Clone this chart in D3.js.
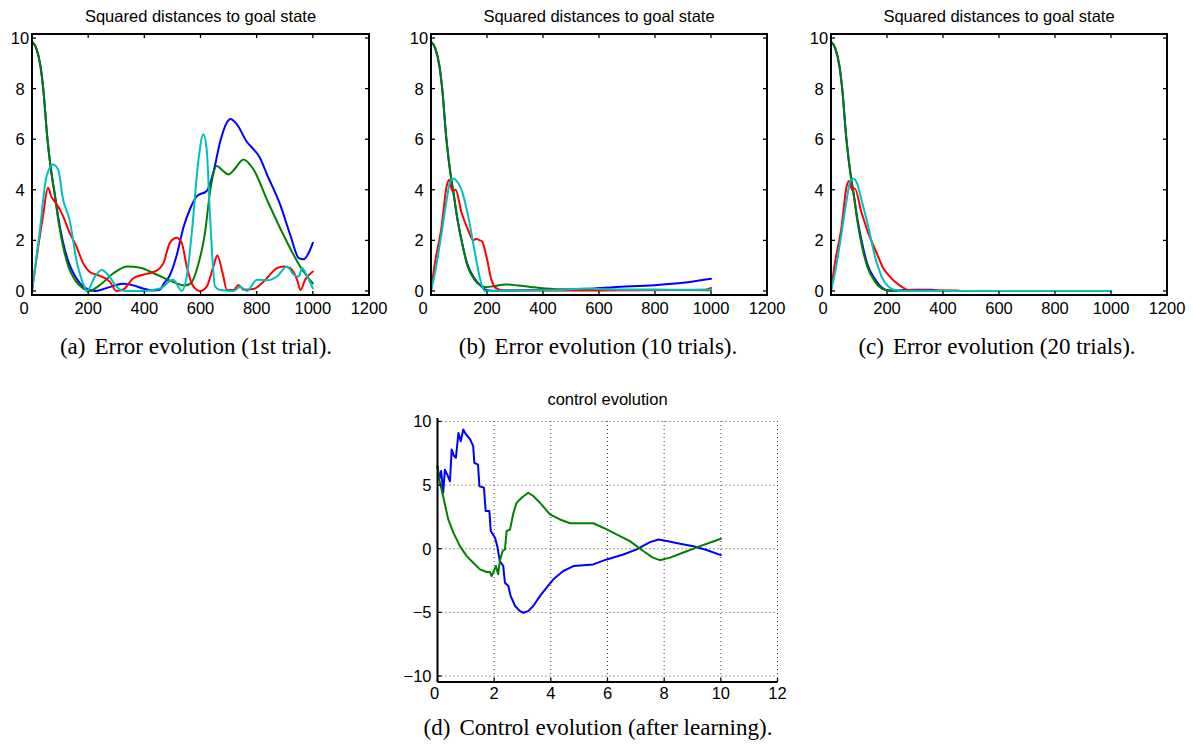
<!DOCTYPE html>
<html>
<head>
<meta charset="utf-8">
<script src="https://cdn.jsdelivr.net/npm/d3@7"></script>
<style>
  body { margin: 0; background: #fff; }
  svg { display: block; }
  .tick-label { font-family: "Liberation Sans", Arial, sans-serif; font-size: 16.5px; fill: #000; }
  .panel-title { font-family: "Liberation Sans", Arial, sans-serif; font-size: 16.5px; fill: #000; }
  .caption { font-family: "Liberation Serif", "Times New Roman", serif; font-size: 23px; fill: #000; }
  .series { fill: none; stroke-width: 2; stroke-linejoin: round; stroke-linecap: round; }
</style>
</head>
<body>
<svg id="fig" width="1193" height="746"></svg>
<script>
// ---- tick values ----
const ERR_X_TICKS = [0, 200, 400, 600, 800, 1000, 1200];
const ERR_Y_TICKS = [0, 2, 4, 6, 8, 10];
const CTRL_X_TICKS = [0, 2, 4, 6, 8, 10, 12];
const CTRL_Y_TICKS = [-10, -5, 0, 5, 10];

const ERR_TITLE = "Squared distances to goal state";
const CTRL_TITLE = "control evolution";
const CAPTIONS = [
  ["(a)", "Error evolution (1st trial)."],
  ["(b)", "Error evolution (10 trials)."],
  ["(c)", "Error evolution (20 trials)."],
  ["(d)", "Control evolution (after learning)."]
];

const COLORS = { blue: "#0000ff", green: "#008000", red: "#ff0000", cyan: "#00bfbf" };

// ---- (a) 1st trial: [step, squared distance] ----
const A_BLUE = [[0,9.85],[15,9.6],[30,8.9],[40,8.0],[55,6.0],[70,4.6],[80,3.9],[95,2.8],[110,1.95],[130,1.15],[155,0.55],[180,0.2],[205,0.04],[225,0],[250,0.06],[290,0.2],[325,0.28],[360,0.22],[395,0.1],[430,0.02],[455,0.05],[470,0.3],[490,0.6],[515,1.4],[539,2.5],[565,3.3],[587,3.75],[622,3.95],[646,4.7],[670,5.9],[694,6.66],[706,6.8],[729,6.6],[765,5.9],[789,5.6],[810,5.3],[837,4.6],[884,3.4],[920,2.2],[950,1.3],[967,1.25],[985,1.5],[1000,1.9]];
const A_GREEN = [[0,9.85],[15,9.6],[30,8.9],[40,8.0],[55,6.0],[70,4.6],[80,3.9],[95,2.7],[110,1.8],[130,0.95],[155,0.4],[180,0.12],[205,0],[240,0.22],[290,0.7],[340,0.97],[385,0.92],[445,0.64],[500,0.37],[545,0.22],[565,0.3],[590,0.97],[616,2.3],[635,4.0],[658,4.94],[680,4.75],[700,4.6],[720,4.8],[753,5.2],[789,4.8],[837,3.6],[896,2.2],[956,0.95],[1000,0.3]];
const A_RED = [[0,0],[15,1.2],[39,2.95],[57,4.08],[70,3.7],[80,3.55],[95,3.3],[111,2.95],[134,2.3],[158,1.76],[182,1.1],[206,0.75],[242,0.6],[277,0.37],[301,0],[325,0.06],[361,0.5],[396,0.64],[444,0.8],[468,1.1],[491,1.9],[515,2.1],[533,1.9],[551,0.97],[575,0.17],[599,0],[622,0.17],[646,0.97],[660,1.4],[679,0.7],[694,0.04],[718,0.04],[735,0.24],[753,0.05],[789,0.08],[825,0.37],[872,0.9],[896,0.97],[920,0.9],[944,0.44],[956,0.04],[973,0.45],[1000,0.77]];
const A_CYAN = [[0,0],[27,2.3],[51,4.5],[75,5.0],[93,4.8],[111,3.6],[134,2.8],[158,1.23],[182,0.3],[196,0],[224,0.57],[248,0.83],[271,0.64],[301,0.17],[325,0.01],[396,0],[456,0.1],[503,0.44],[533,0],[551,0.57],[569,2.3],[593,5.2],[610,6.2],[622,5.6],[634,2.95],[652,0.17],[670,0.04],[718,0],[741,0.17],[765,0],[801,0.44],[837,0.42],[872,0.57],[908,0.97],[932,0.64],[950,0.57],[962,0.9],[979,0.6],[1000,0.1]];

// ---- (b) 10 trials ----
const B_BLUE = [[0,9.85],[15,9.6],[30,8.9],[40,8.0],[55,6.0],[70,4.6],[80,3.9],[95,2.8],[110,1.95],[130,1.05],[155,0.5],[180,0.18],[200,0.03],[240,0.01],[300,0.02],[450,0.05],[550,0.08],[650,0.15],[800,0.23],[900,0.32],[1000,0.48]];
const B_GREEN = [[0,9.85],[15,9.6],[30,8.9],[40,8.0],[55,6.0],[70,4.6],[80,3.9],[95,2.8],[110,1.95],[130,1.0],[155,0.45],[180,0.2],[198,0.15],[230,0.2],[264,0.26],[310,0.22],[360,0.15],[442,0.07],[550,0.05],[700,0.05],[850,0.04],[1000,0.03]];
const B_RED = [[0,0],[14,1.1],[38,2.55],[56,4.15],[65,4.4],[76,3.95],[88,4.0],[109,3.1],[133,2.4],[151,2.0],[160,2.05],[175,2.0],[183,1.95],[198,1.36],[216,0.44],[234,0.1],[260,0.02],[400,0.02],[600,0.02],[900,0.04],[980,0.05],[1000,0.12]];
const B_CYAN = [[0,0],[14,0.7],[38,2.3],[56,3.6],[68,4.3],[80,4.45],[95,4.3],[109,4.0],[133,2.95],[157,1.5],[181,0.24],[193,0],[300,0.02],[450,0.03],[550,0.1],[600,0.08],[700,0.05],[1000,0.05]];

// ---- (c) 20 trials ----
const C_BLUE = [[0,9.85],[15,9.6],[30,8.9],[40,8.0],[55,6.0],[70,4.6],[80,3.9],[95,2.8],[110,1.95],[130,1.05],[155,0.5],[180,0.15],[205,0.03],[240,0.02],[300,0.05],[360,0.05],[380,0],[1000,0]];
const C_GREEN = [[0,9.85],[15,9.6],[30,8.9],[40,8.0],[55,6.0],[70,4.6],[80,3.9],[95,2.7],[110,1.8],[130,0.95],[155,0.4],[180,0.1],[210,0],[1000,0]];
const C_RED = [[0,0],[14,1.1],[38,2.55],[56,4.15],[65,4.35],[75,4.0],[85,4.05],[109,3.1],[133,2.3],[163,1.5],[187,0.9],[210,0.57],[228,0.37],[252,0.17],[276,0.04],[350,0.03],[450,0.02],[470,0],[1000,0]];
const C_CYAN = [[0,0],[14,0.7],[38,2.3],[56,3.6],[68,4.3],[80,4.45],[95,4.2],[109,3.6],[133,2.55],[157,1.36],[181,0.57],[205,0.17],[228,0.04],[260,0],[1000,0]];

// ---- (d) control after learning: [time, control] ----
const D_BLUE = [[0,6.5],[0.06,5.45],[0.13,6.1],[0.2,4.4],[0.26,6.2],[0.35,5.8],[0.44,5.3],[0.5,7.8],[0.58,7.3],[0.65,7.15],[0.74,9.1],[0.82,8.45],[0.91,9.37],[1.0,9.0],[1.15,8.6],[1.26,8.06],[1.3,6.75],[1.43,6.6],[1.48,4.9],[1.64,4.8],[1.7,2.96],[1.83,2.96],[1.88,1.4],[2.03,0.86],[2.11,0.2],[2.2,-0.97],[2.32,-1.36],[2.38,-2.67],[2.5,-2.93],[2.58,-3.7],[2.74,-4.5],[2.91,-4.9],[3.03,-5.03],[3.2,-4.9],[3.38,-4.5],[3.62,-3.7],[3.85,-3.06],[4.09,-2.4],[4.44,-1.75],[4.8,-1.36],[5.15,-1.3],[5.5,-1.23],[5.97,-0.84],[6.56,-0.45],[7.03,-0.05],[7.5,0.52],[7.8,0.73],[8.09,0.6],[8.56,0.39],[9.03,0.2],[9.5,-0.1],[10,-0.5]];
const D_GREEN = [[0,6.5],[0.06,5.45],[0.2,4.1],[0.26,3.5],[0.38,2.3],[0.56,1.26],[0.79,0.2],[1.03,-0.58],[1.26,-1.1],[1.5,-1.62],[1.74,-1.83],[1.85,-1.83],[1.91,-2.15],[1.99,-1.75],[2.06,-1.36],[2.14,-2.0],[2.2,-0.97],[2.3,-0.18],[2.38,-0.05],[2.44,1.39],[2.56,1.5],[2.68,2.83],[2.79,3.6],[2.97,4.0],[3.2,4.4],[3.38,4.14],[3.62,3.6],[3.97,2.7],[4.32,2.3],[4.68,2.0],[5.15,2.0],[5.5,2.0],[5.85,1.65],[6.32,1.13],[6.79,0.6],[7.26,-0.18],[7.6,-0.7],[7.85,-0.9],[8.21,-0.7],[8.68,-0.3],[9.27,0.2],[10,0.78]];

const svg = d3.select("#fig");

// error panels: full box, inward ticks on all four sides
function drawErrorPanel(left, right, series, caption, capX) {
  const top = 34, bottom = 295;
  const x = d3.scaleLinear().domain([0, 1200]).range([left, right]);
  const y = d3.scaleLinear().domain([-0.16, 10.16]).range([bottom, top]);
  const g = svg.append("g");

  const line = d3.line().x(d => x(d[0])).y(d => y(d[1])).curve(d3.curveMonotoneX);
  series.forEach(([data, col]) => {
    g.append("path").attr("class", "series").attr("stroke", COLORS[col]).attr("d", line(data));
  });

  const ax = g.append("g").attr("stroke", "#000").attr("stroke-width", 1.3);
  ERR_Y_TICKS.forEach(v => {
    ax.append("line").attr("x1", left).attr("x2", left + 4).attr("y1", y(v)).attr("y2", y(v));
    ax.append("line").attr("x1", right).attr("x2", right - 4).attr("y1", y(v)).attr("y2", y(v));
  });
  ERR_X_TICKS.forEach(v => {
    ax.append("line").attr("x1", x(v)).attr("x2", x(v)).attr("y1", bottom).attr("y2", bottom - 4);
    ax.append("line").attr("x1", x(v)).attr("x2", x(v)).attr("y1", top).attr("y2", top + 4);
  });
  g.append("rect").attr("x", left).attr("y", top).attr("width", right - left).attr("height", bottom - top)
    .attr("fill", "none").attr("stroke", "#000").attr("stroke-width", 2);

  g.selectAll(".ylab").data(ERR_Y_TICKS).join("text")
    .attr("class", "tick-label").attr("text-anchor", "middle")
    .attr("x", left - 12).attr("y", d => y(d)).attr("dy", "0.36em").text(d => d);
  g.selectAll(".xlab").data(ERR_X_TICKS).join("text")
    .attr("class", "tick-label").attr("text-anchor", "middle")
    .attr("x", d => x(d) + (d === 0 ? -8 : 0)).attr("y", 314).text(d => d);

  g.append("text").attr("class", "panel-title").attr("text-anchor", "middle")
    .attr("x", (left + right) / 2).attr("y", 22).text(ERR_TITLE);

  drawCaption(caption, capX, 354);
}

function drawCaption([tag, rest], cx, yb) {
  const t = svg.append("text").attr("class", "caption").attr("text-anchor", "middle").attr("x", cx).attr("y", yb);
  t.append("tspan").text(tag);
  t.append("tspan").attr("dx", 9).text(rest);
}

drawErrorPanel(32, 369, [[A_BLUE, "blue"], [A_GREEN, "green"], [A_RED, "red"], [A_CYAN, "cyan"]], CAPTIONS[0], 196);
drawErrorPanel(431, 767, [[B_BLUE, "blue"], [B_GREEN, "green"], [B_RED, "red"], [B_CYAN, "cyan"]], CAPTIONS[1], 598);
drawErrorPanel(831, 1167, [[C_BLUE, "blue"], [C_GREEN, "green"], [C_RED, "red"], [C_CYAN, "cyan"]], CAPTIONS[2], 997);

// control panel: dotted grid, left and bottom axes only
(function drawControl() {
  const left = 437.5, right = 777.5, top = 418, bottom = 682;
  const x = d3.scaleLinear().domain([0, 12]).range([left, right]);
  const y = d3.scaleLinear().domain([-10.47, 10.27]).range([bottom, top]);
  const g = svg.append("g");

  const grid = g.append("g").attr("stroke", "#444").attr("stroke-width", 1).attr("stroke-dasharray", "1 3");
  CTRL_X_TICKS.filter(v => v > 0).forEach(v =>
    grid.append("line").attr("x1", x(v)).attr("x2", x(v)).attr("y1", bottom).attr("y2", top + 3));
  CTRL_Y_TICKS.forEach(v =>
    grid.append("line").attr("x1", left).attr("x2", right).attr("y1", y(v)).attr("y2", y(v)));

  const line = d3.line().x(d => x(d[0])).y(d => y(d[1]));
  [[D_BLUE, "blue"], [D_GREEN, "green"]].forEach(([data, col]) => {
    g.append("path").attr("class", "series").attr("stroke", COLORS[col]).attr("d", line(data));
  });

  const ax = g.append("g").attr("stroke", "#000");
  ax.append("line").attr("x1", left).attr("x2", left).attr("y1", top).attr("y2", bottom).attr("stroke-width", 2);
  ax.append("line").attr("x1", left).attr("x2", right).attr("y1", bottom).attr("y2", bottom).attr("stroke-width", 2);
  CTRL_Y_TICKS.forEach(v => ax.append("line").attr("x1", left).attr("x2", left + 4).attr("y1", y(v)).attr("y2", y(v)).attr("stroke-width", 1.3));
  CTRL_X_TICKS.forEach(v => ax.append("line").attr("x1", x(v)).attr("x2", x(v)).attr("y1", bottom).attr("y2", bottom - 4).attr("stroke-width", 1.3));

  g.selectAll(".ylab").data(CTRL_Y_TICKS).join("text")
    .attr("class", "tick-label").attr("text-anchor", "end")
    .attr("x", left - 6).attr("y", d => y(d)).attr("dy", "0.36em")
    .text(d => d < 0 ? "\u2212" + Math.abs(d) : d);
  g.selectAll(".xlab").data(CTRL_X_TICKS).join("text")
    .attr("class", "tick-label").attr("text-anchor", "middle")
    .attr("x", d => x(d) + (d === 0 ? -3 : 0)).attr("y", 699).text(d => d);

  g.append("text").attr("class", "panel-title").attr("text-anchor", "middle")
    .attr("x", (left + right) / 2).attr("y", 405).text(CTRL_TITLE);

  drawCaption(CAPTIONS[3], 598, 735);
})();
</script>
</body>
</html>
